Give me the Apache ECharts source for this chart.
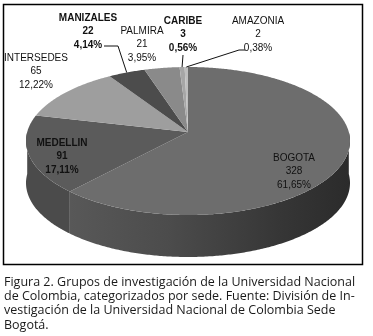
<!DOCTYPE html>
<html>
<head>
<meta charset="utf-8">
<script src="https://cdn.jsdelivr.net/npm/echarts@6/dist/echarts.min.js"></script>
<style>
  html, body { margin: 0; padding: 0; background: #fff; }
  #chart { width: 373px; height: 336px; }
</style>
</head>
<body>
<div id="chart"></div>
<script>
// Data: research groups per campus (sede)
const sedes = ['BOGOTA', 'MEDELLIN', 'INTERSEDES', 'MANIZALES', 'PALMIRA', 'CARIBE', 'AMAZONIA'];
const grupos = [328, 91, 65, 22, 21, 3, 2];
const boldLabel = [false, true, false, true, false, true, false];

const captionLines = [
  'Figura 2. Grupos de investigación de la Universidad Nacional',
  'de Colombia, categorizados por sede. Fuente: División de In-',
  'vestigación de la Universidad Nacional de Colombia Sede',
  'Bogotá.'
];

// Styles
const topColors = ['#6d6d6d', '#5b5b5b', '#9e9e9e', '#4c4c4c', '#8a8a8a', '#a6a6a6', '#bebebe'];
const sideColors = [
  ['#585858', '#4c4c4c', '#363636', '#2b2b2b'],
  ['#4b4b4b', '#4b4b4b', '#4b4b4b', '#4b4b4b'],
  ['#888', '#888', '#888', '#888'],
  ['#444', '#444', '#444', '#444'],
  ['#777', '#777', '#777', '#777'],
  ['#999', '#999', '#999', '#999'],
  ['#aaa', '#aaa', '#aaa', '#aaa']
];

// Label placement (centre x, top y of first line) and leader line start points
const labelPos = [[294, 151], [62, 136], [36, 51], [88, 11], [142, 24], [183, 14], [258, 14]];
const leaderFrom = [null, null, null, [[104, 46], [118, 46]], null, [[183, 55]], [[245, 50], [239, 50]]];

// Tilted pie geometry: circle seen in perspective, vertex = projected centre
const cx = 188, vy = 132, A = 160.8, B = 72.9, persp = 0.1216, depth = 42;

const total = grupos.reduce((s, v) => s + v, 0);
const starts = [];
let acc = 0;
grupos.forEach(v => { starts.push(acc / total * Math.PI * 2); acc += v; });

function rim(t, dy) {
  const u = Math.sin(t), v = -Math.cos(t);
  const w = 1 - persp * v;
  return [cx + A * u / w, vy + B * v / w + (dy || 0)];
}
function arcPts(a, b, dy) {
  const n = Math.max(2, Math.ceil((b - a) / 0.01));
  const pts = [];
  for (let i = 0; i <= n; i++) pts.push(rim(a + (b - a) * i / n, dy));
  return pts;
}
function pct(v) {
  return (v / total * 100).toFixed(2).replace('.', ',') + '%';
}

function renderSide(params, api) {
  const i = params.dataIndex;
  const a = Math.max(starts[i], Math.PI / 2);
  const b = Math.min(starts[i] + grupos[i] / total * Math.PI * 2, Math.PI * 1.5);
  if (b <= a) return null;
  const pts = arcPts(a, b, 0).concat(arcPts(a, b, depth).reverse());
  const c = sideColors[i];
  return {
    type: 'polygon',
    shape: { points: pts },
    style: {
      fill: new echarts.graphic.LinearGradient(0, 0, 1, 0, [
        { offset: 0, color: c[0] }, { offset: 0.35, color: c[1] },
        { offset: 0.75, color: c[2] }, { offset: 1, color: c[3] }
      ]),
      stroke: null
    }
  };
}

function renderTop(params, api) {
  const i = params.dataIndex;
  const a = starts[i];
  const b = a + api.value(0) / total * Math.PI * 2;
  const pts = [[cx, vy]].concat(arcPts(a, b, 0));
  const children = [{
    type: 'polygon',
    shape: { points: pts },
    style: { fill: topColors[i], stroke: null }
  }, {
    type: 'text',
    z2: 10,
    style: {
      x: labelPos[i][0], y: labelPos[i][1],
      text: sedes[i] + '\n' + grupos[i] + '\n' + pct(grupos[i]),
      textAlign: 'center', textVerticalAlign: 'top',
      lineHeight: 13.5,
      fill: '#111',
      font: (boldLabel[i] ? 'bold ' : '') + '10px "Liberation Sans Narrow", "Liberation Sans", sans-serif'
    }
  }];
  if (leaderFrom[i]) {
    const mid = (a + b) / 2;
    children.push({
      type: 'polyline',
      z2: 10,
      shape: { points: leaderFrom[i].concat([rim(mid, 0)]) },
      style: { stroke: '#111', lineWidth: 1, fill: null }
    });
  }
  return { type: 'group', children };
}

const chart = echarts.init(document.getElementById('chart'), null, { renderer: 'canvas' });

chart.setOption({
  animation: false,
  backgroundColor: '#fff',
  series: [
    {
      type: 'custom',
      coordinateSystem: 'none',
      renderItem: renderSide,
      data: grupos.map(v => [v]),
      z: 1,
      silent: true
    },
    {
      type: 'custom',
      coordinateSystem: 'none',
      renderItem: renderTop,
      data: grupos.map(v => [v]),
      z: 2,
      silent: true
    }
  ],
  graphic: [
    {
      type: 'rect',
      shape: { x: 3.5, y: 4.5, width: 359, height: 260 },
      style: { fill: null, stroke: '#000', lineWidth: 1.5 },
      z: 0
    }
  ].concat(captionLines.map((t, k) => ({
    type: 'text',
    left: 4,
    top: 276 + k * 14.2,
    style: {
      text: t,
      fill: '#1a1a1a',
      font: '12.5px "Open Sans", sans-serif'
    }
  })))
});
</script>
</body>
</html>
